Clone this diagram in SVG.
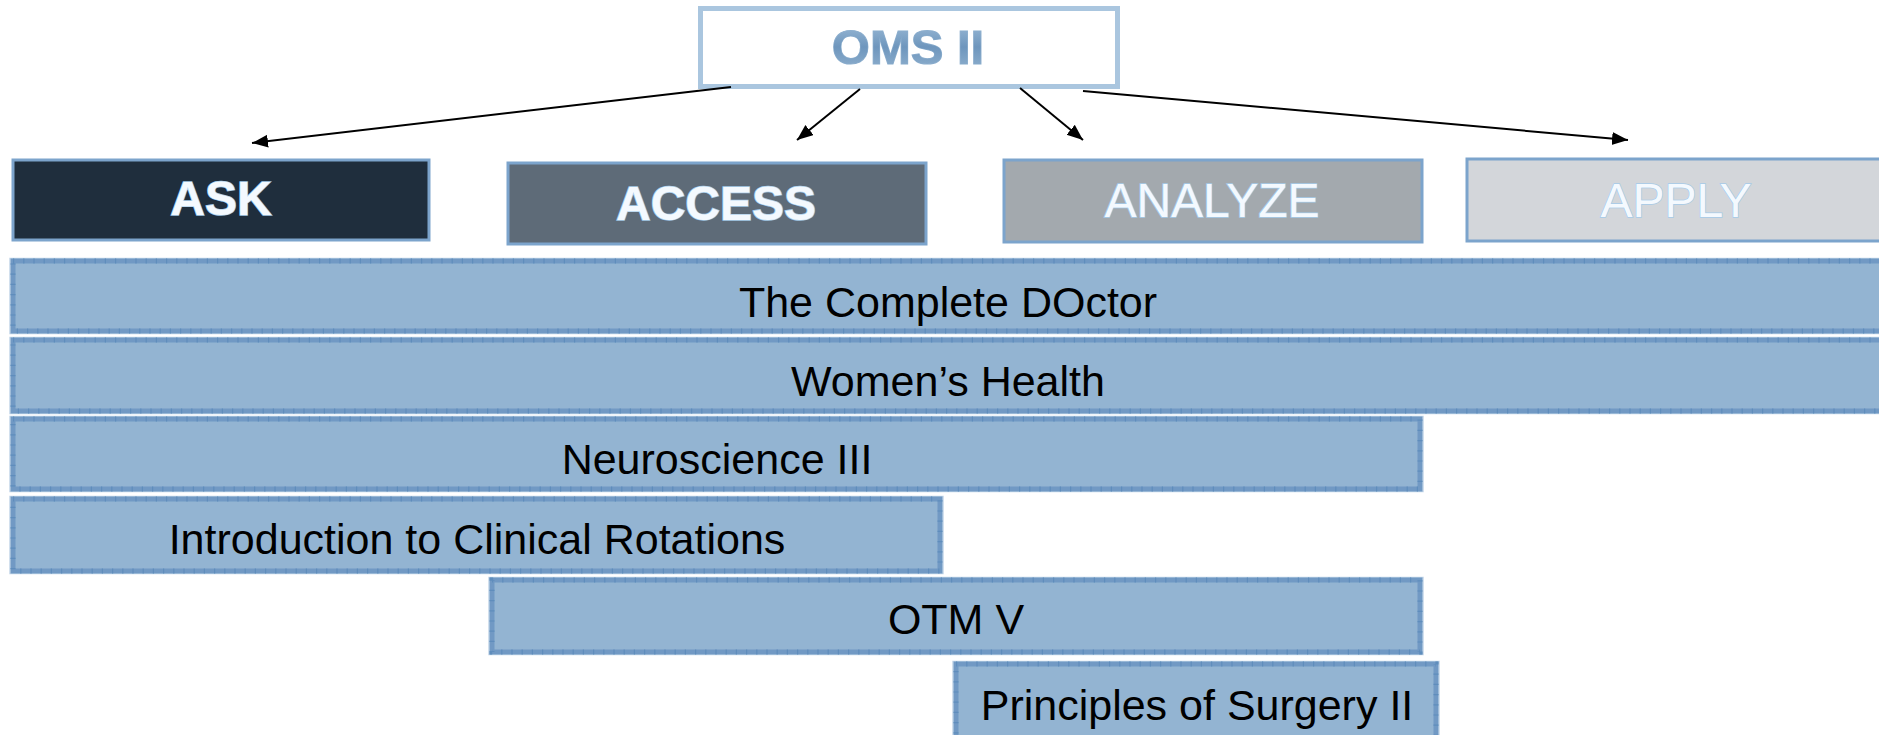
<svg xmlns="http://www.w3.org/2000/svg" width="1879" height="735" viewBox="0 0 1879 735">
<defs>
<marker id="ah" markerUnits="userSpaceOnUse" markerWidth="18" markerHeight="14" refX="16" refY="6.5" orient="auto">
<path d="M0,0 L16,6.5 L0,13 z" fill="#000"/>
</marker>
<linearGradient id="omsg" x1="0" y1="0" x2="0" y2="1">
<stop offset="0" stop-color="#9fbdd8"/>
<stop offset="0.5" stop-color="#6e96bd"/>
<stop offset="1" stop-color="#93b3d0"/>
</linearGradient>
</defs>
<style>
.cat{font-family:"Liberation Sans",Arial,sans-serif;font-size:48px;text-anchor:middle;fill:#f4f9fe;stroke:#a6cbe9;stroke-width:1.5px;paint-order:stroke}
.b{font-weight:bold}
.catbox{stroke:#7ca4cc;stroke-width:3}
.bar{fill:#93b4d2;stroke:#7199c4;stroke-width:5}
.tick{fill:none;stroke:#5f8dbc;stroke-width:5;stroke-dasharray:1.2 9}
.edge{fill:none;stroke:#c3d6e9;stroke-width:1.5}
.lbl{font-family:"Liberation Sans",Arial,sans-serif;font-size:43px;text-anchor:middle;fill:#000}
.conn{stroke:#000;stroke-width:2;fill:none;marker-end:url(#ah)}
</style>
<rect width="1879" height="735" fill="#fff"/>

<g id="oms">
<rect x="700.5" y="8.5" width="417" height="78" fill="#fff" stroke="#aac6df" stroke-width="5"/>
<text x="908" y="64" font-family="Liberation Sans,Arial,sans-serif" font-size="49" font-weight="bold" text-anchor="middle" fill="url(#omsg)" stroke="#8eb0cf" stroke-width="1.2" paint-order="stroke">OMS II</text>
</g>

<g id="ask">
<rect class="catbox" x="13" y="160" width="416" height="80" fill="#1f2e3d" stroke="#5f8cb8"/>
<text class="cat b" x="221" y="215">ASK</text>
</g>
<g id="access">
<rect class="catbox" x="508" y="163" width="418" height="81" fill="#5e6b78"/>
<text class="cat b" x="716" y="220">ACCESS</text>
</g>
<g id="analyze">
<rect class="catbox" x="1004" y="160" width="418" height="82" fill="#a3a9ae"/>
<text class="cat" x="1212" y="217" stroke="#93bde0" stroke-width="3">ANALYZE</text>
</g>
<g id="apply">
<rect class="catbox" x="1467" y="159" width="420" height="82" fill="#d3d6da"/>
<text class="cat" x="1676" y="217" stroke="#9dbcd8" stroke-width="3.5">APPLY</text>
</g>

<g id="connectors">
<line class="conn" x1="731" y1="87" x2="252" y2="143"/>
<line class="conn" x1="860" y1="89" x2="797" y2="140"/>
<line class="conn" x1="1020" y1="88" x2="1083" y2="140"/>
<line class="conn" x1="1083" y1="91" x2="1628" y2="140"/>
</g>

<g id="complete-doctor">
<rect class="edge" x="10" y="258.5" width="1880" height="75"/>
<rect class="bar" x="13" y="261" width="1880" height="70"/>
<rect class="tick" x="13" y="261" width="1880" height="70"/>
<text class="lbl" x="948" y="317">The Complete DOctor</text>
</g>
<g id="womens-health">
<rect class="edge" x="10" y="337.5" width="1880" height="76"/>
<rect class="bar" x="13" y="340" width="1880" height="71"/>
<rect class="tick" x="13" y="340" width="1880" height="71"/>
<text class="lbl" x="948" y="396">Women’s Health</text>
</g>
<g id="neuroscience">
<rect class="edge" x="10" y="416.5" width="1413" height="75"/>
<rect class="bar" x="13" y="419" width="1407" height="70"/>
<rect class="tick" x="13" y="419" width="1407" height="70"/>
<text class="lbl" x="717" y="474">Neuroscience III</text>
</g>
<g id="intro-clinical">
<rect class="edge" x="10" y="496.5" width="933" height="77"/>
<rect class="bar" x="13" y="499" width="927" height="72"/>
<rect class="tick" x="13" y="499" width="927" height="72"/>
<text class="lbl" x="477" y="554">Introduction to Clinical Rotations</text>
</g>
<g id="otm">
<rect class="edge" x="489" y="577.5" width="934" height="77"/>
<rect class="bar" x="492" y="580" width="928" height="72"/>
<rect class="tick" x="492" y="580" width="928" height="72"/>
<text class="lbl" x="956" y="634">OTM V</text>
</g>
<g id="surgery">
<rect class="edge" x="953" y="661.5" width="486" height="80"/>
<rect class="bar" x="956" y="664" width="480" height="80"/>
<rect class="tick" x="956" y="664" width="480" height="80"/>
<text class="lbl" x="1197" y="720">Principles of Surgery II</text>
</g>
</svg>
